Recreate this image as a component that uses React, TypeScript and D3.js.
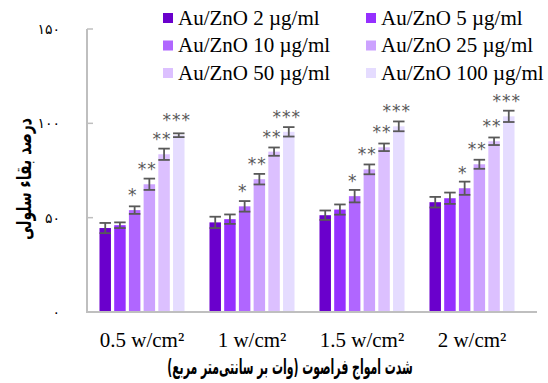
import React, { useLayoutEffect, useRef, useState } from "react";
import * as d3 from "d3";

const groups = ["0.5 w/cm²", "1 w/cm²", "1.5 w/cm²", "2 w/cm²"];
const seriesNames = [
  "Au/ZnO 2 µg/ml",
  "Au/ZnO 5 µg/ml",
  "Au/ZnO 10 µg/ml",
  "Au/ZnO 25 µg/ml",
  "Au/ZnO 50 µg/ml",
  "Au/ZnO 100 µg/ml",
];
const colors = ["#6a00cc", "#9530ff", "#b066ff", "#cca2ff", "#dcc0ff", "#e5dcff"];
// values[series][group]
const values = [
  [44.5, 47.5, 51.3, 58.2],
  [46, 49.2, 54.3, 60.3],
  [54, 56, 61.4, 65.6],
  [67.7, 70.4, 75.6, 78.3],
  [83.6, 85, 87.3, 90.5],
  [93.7, 95.5, 98.4, 103.7],
];
const errors = [
  [2.7, 3, 2.5, 2.8],
  [1.5, 2.5, 2.7, 3],
  [2, 2.8, 3.3, 3.5],
  [3, 2.8, 2.6, 2.4],
  [3, 2.2, 2, 2],
  [1, 2.5, 2.6, 3],
];
const stars = ["", "", "*", "**", "**", "***"];
const yTicks = [0, 50, 100, 150];
const yTickLabels = ["۰", "۵۰", "۱۰۰", "۱۵۰"];
const yTitle = "درصد بقاء سلولی";
const xTitle = "شدت امواج فراصوت (وات بر سانتی‌متر مربع)";

function FitText({ x, y, rotate = 0, width, children, ...rest }: any) {
  const ref = useRef<SVGTextElement>(null);
  const [sx, setSx] = useState(1);
  useLayoutEffect(() => {
    if (ref.current) {
      const len = ref.current.getComputedTextLength();
      if (len > 0) setSx(width / len);
    }
  }, [width, children]);
  return (
    <g transform={`translate(${x},${y}) rotate(${rotate}) scale(${sx},1)`}>
      <text ref={ref} x={0} y={0} textAnchor="middle" {...rest}>
        {children}
      </text>
    </g>
  );
}

export default function App() {
  const W = 548, H = 383;
  const left = 87, right = 527, axisEnd = 537;
  const y = d3.scaleLinear().domain([0, 150]).range([312, 29]);
  const x0 = d3.scaleBand<string>().domain(groups).range([left, right]).paddingInner(0.227).paddingOuter(0.1135);
  const x1 = d3.scaleBand<number>().domain(d3.range(seriesNames.length)).range([0, x0.bandwidth()]).paddingInner(0.22).paddingOuter(0);
  const serif = "'Liberation Serif', 'Times New Roman', serif";
  const fa = "'DejaVu Sans', sans-serif";
  const errColor = "#595959";
  const axisColor = "#bfbfbf";
  const legCols = [163, 366];
  const legRows = [18, 45.5, 73];

  return (
    <svg width={W} height={H} style={{ position: "absolute", left: 0, top: 0, background: "#fff" }}>
      {/* axis */}
      <line x1={left} x2={left} y1={y(150)} y2={y(0)} stroke={axisColor} strokeWidth={2} />
      {yTicks.map((t) => (
        <line key={t} x1={left} x2={left + 6} y1={y(t)} y2={y(t)} stroke={axisColor} strokeWidth={1.5} />
      ))}
      {yTicks.map((t, i) => (
        <text key={"l" + t} x={60} y={y(t)} dy="0.35em" textAnchor="end" fontFamily={fa} fontSize={14} fill="#000">
          {yTickLabels[i]}
        </text>
      ))}
      {/* bars */}
      {groups.map((g, gi) => (
        <g key={g} transform={`translate(${x0(g)},0)`}>
          {seriesNames.map((s, si) => {
            const v = values[si][gi];
            const e = errors[si][gi];
            const bx = x1(si)!;
            const bw = x1.bandwidth();
            const cx = bx + bw / 2;
            return (
              <g key={s}>
                <rect x={bx} y={y(v)} width={bw} height={y(0) - y(v)} fill={colors[si]} />
                <line x1={cx} x2={cx} y1={y(v + e)} y2={y(v - e)} stroke={errColor} strokeWidth={1.8} />
                <line x1={bx} x2={bx + bw} y1={y(v + e)} y2={y(v + e)} stroke={errColor} strokeWidth={1.8} />
                <line x1={bx} x2={bx + bw} y1={y(v - e)} y2={y(v - e)} stroke={errColor} strokeWidth={1.8} />
                {stars[si] && (
                  <text x={cx - 2} y={y(v) - 9} textAnchor="middle" fontFamily={fa} fontSize={17} letterSpacing={1} fill={errColor}>
                    {stars[si]}
                  </text>
                )}
              </g>
            );
          })}
        </g>
      ))}
      <line x1={left - 1} x2={axisEnd} y1={y(0)} y2={y(0)} stroke={axisColor} strokeWidth={2} />
      {/* x labels */}
      {groups.map((g) => (
        <text key={g} x={x0(g)! + x0.bandwidth() / 2} y={347} textAnchor="middle" fontFamily={serif} fontSize={21} fill="#000">
          {g}
        </text>
      ))}
      <FitText x={290} y={374} width={246} fontFamily={fa} fontWeight="bold" fontSize={21} fill="#000" direction="rtl">
        {xTitle}
      </FitText>
      <FitText x={31} y={179} rotate={-90} width={122} fontFamily={fa} fontWeight="bold" fontSize={20} fill="#000" direction="rtl">
        {yTitle}
      </FitText>
      {/* legend */}
      {seriesNames.map((s, i) => {
        const cx = legCols[i % 2];
        const cy = legRows[Math.floor(i / 2)];
        return (
          <g key={s}>
            <rect x={cx} y={cy - 5} width={10} height={10} fill={colors[i]} />
            <text x={cx + 15} y={cy} dy="0.33em" fontFamily={serif} fontSize={21} fill="#000">
              {s}
            </text>
          </g>
        );
      })}
    </svg>
  );
}
